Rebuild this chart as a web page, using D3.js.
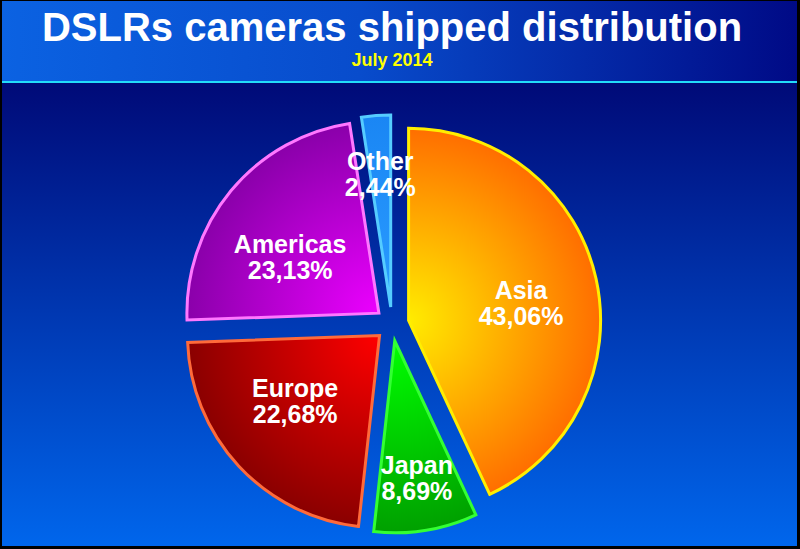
<!DOCTYPE html>
<html>
<head>
<meta charset="utf-8">
<script src="https://cdn.jsdelivr.net/npm/d3@7"></script>
<style>
  html, body { margin: 0; padding: 0; background: #000; }
  svg { display: block; }
</style>
</head>
<body>
<script>
// ---- data ----
const categories = ["Asia", "Japan", "Europe", "Americas", "Other"];
const values = [43.06, 8.69, 22.68, 23.13, 2.44];
const title = "DSLRs cameras shipped distribution";
const subtitle = "July 2014";

// ---- styles ----
const innerColors = ["#ffec00", "#00ff00", "#ff0000", "#ec00ff", "#2a9cff"];
const outerColors = ["#ff6e00", "#00a000", "#8a0000", "#8a00aa", "#1a86f4"];
const strokeColors = ["#ffee00", "#33ff33", "#ff6a3a", "#ff77ff", "#55ccff"];

const W = 800, H = 549;
const svg = d3.select("body").append("svg").attr("width", W).attr("height", H);
const defs = svg.append("defs");

// background
const hg = defs.append("linearGradient").attr("id", "hdr").attr("x1", 0).attr("x2", 1).attr("y1", 0).attr("y2", 0);
hg.append("stop").attr("offset", "0%").attr("stop-color", "#0b62e2");
hg.append("stop").attr("offset", "45%").attr("stop-color", "#084ccc");
hg.append("stop").attr("offset", "100%").attr("stop-color", "#000a86");
const bg = defs.append("linearGradient").attr("id", "bg").attr("x1", 0).attr("x2", 0).attr("y1", 0).attr("y2", 1);
bg.append("stop").attr("offset", "0%").attr("stop-color", "#000a78");
bg.append("stop").attr("offset", "100%").attr("stop-color", "#0066ec");

svg.append("rect").attr("width", W).attr("height", H).attr("fill", "#000");
svg.append("rect").attr("x", 2).attr("y", 1).attr("width", W - 5).attr("height", 80).attr("fill", "url(#hdr)");
svg.append("rect").attr("x", 2).attr("y", 83).attr("width", W - 5).attr("height", H - 86).attr("fill", "url(#bg)");
svg.append("rect").attr("x", 2).attr("y", 81).attr("width", W - 5).attr("height", 2).attr("fill", "#22dcfa");

svg.append("text").attr("x", 392).attr("y", 41).attr("text-anchor", "middle")
  .attr("font-family", "Liberation Sans, Arial, sans-serif").attr("font-weight", "bold")
  .attr("font-size", 40).attr("fill", "#fff").text(title);
svg.append("text").attr("x", 392).attr("y", 66).attr("text-anchor", "middle")
  .attr("font-family", "Liberation Sans, Arial, sans-serif").attr("font-weight", "bold")
  .attr("font-size", 18).attr("fill", "#ffff00").text(subtitle);

// pie
const cx = 392, cy = 324, r = 192, explode = 17;
const pie = d3.pie().sort(null).value(d => d.value);
const arc = d3.arc().innerRadius(0).outerRadius(r);
const data = categories.map((c, i) => ({ name: c, value: values[i], i }));
const arcs = pie(data);
const fmt = v => d3.format(".2f")(v).replace(".", ",") + "%";

arcs.forEach(a => {
  const rg = defs.append("radialGradient").attr("id", "g" + a.index)
    .attr("gradientUnits", "userSpaceOnUse").attr("cx", 0).attr("cy", 0).attr("r", r);
  rg.append("stop").attr("offset", "0%").attr("stop-color", innerColors[a.data.i]);
  rg.append("stop").attr("offset", "100%").attr("stop-color", outerColors[a.data.i]);
});

const slices = svg.append("g").selectAll("g").data(arcs).join("g")
  .attr("transform", a => {
    const m = (a.startAngle + a.endAngle) / 2;
    return `translate(${cx + Math.sin(m) * explode},${cy - Math.cos(m) * explode})`;
  });

slices.append("path").attr("d", arc)
  .attr("fill", a => `url(#g${a.index})`)
  .attr("stroke", a => strokeColors[a.data.i])
  .attr("stroke-width", 3)
  .attr("stroke-linejoin", "miter");

slices.each(function(a) {
  const m = (a.startAngle + a.endAngle) / 2;
  const big = a.data.value >= 10;
  const rl = big ? 0.6 * r : 0.71 * r;
  const ky = big ? 0.8 : 1;
  const x = Math.sin(m) * rl, y = -Math.cos(m) * rl * ky;
  const t = d3.select(this).append("text").attr("text-anchor", "middle")
    .attr("font-family", "Liberation Sans, Arial, sans-serif").attr("font-weight", "bold")
    .attr("font-size", 25).attr("fill", "#fff");
  t.append("tspan").attr("x", x).attr("y", y - 1).text(a.data.name);
  t.append("tspan").attr("x", x).attr("y", y + 25).text(fmt(a.data.value));
});
</script>
</body>
</html>
